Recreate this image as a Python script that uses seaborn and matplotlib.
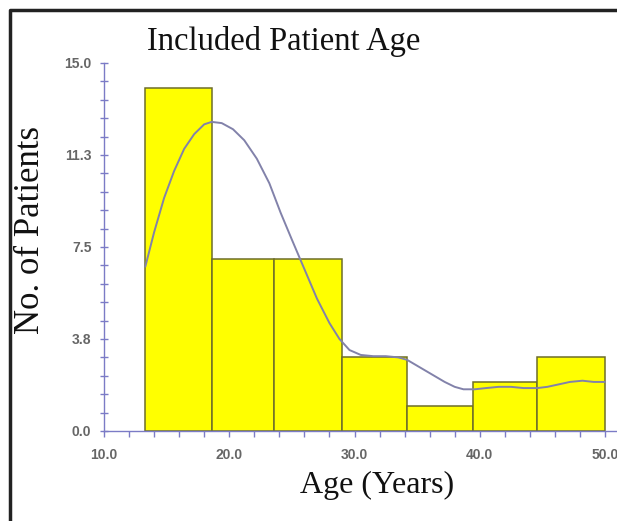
import matplotlib
matplotlib.use('Agg')
import matplotlib.pyplot as plt
from matplotlib.lines import Line2D
from matplotlib.ticker import MultipleLocator
import seaborn as sns

# histogram bins (years) and counts
bin_edges = [13.3, 18.6, 23.6, 29.0, 34.2, 39.5, 44.6, 50.0]
counts = [14, 7, 7, 3, 1, 2, 3]

# smoothed density curve, read point by point
curve_age = [13.3, 14.0, 14.8, 15.6, 16.4, 17.2, 18.0, 18.6, 19.4, 20.3, 21.2,
             22.2, 23.2, 24.1, 25.0, 26.0, 27.0, 28.0, 28.8, 29.6, 30.5, 31.5,
             32.5, 33.5, 34.2, 35.2, 36.2, 37.2, 38.0, 38.7, 39.6, 40.5, 41.5,
             42.5, 43.5, 44.6, 45.4, 46.3, 47.2, 48.2, 49.1, 50.0]
curve_val = [6.7, 8.1, 9.5, 10.6, 11.5, 12.1, 12.5, 12.6, 12.55, 12.3, 11.85,
             11.1, 10.1, 8.9, 7.8, 6.6, 5.4, 4.4, 3.75, 3.3, 3.1, 3.05,
             3.05, 3.0, 2.9, 2.6, 2.3, 2.0, 1.8, 1.7, 1.7, 1.75, 1.8,
             1.8, 1.75, 1.75, 1.8, 1.9, 2.0, 2.05, 2.0, 2.0]

x_ticks = [10, 20, 30, 40, 50]
x_labels = ['10.0', '20.0', '30.0', '40.0', '50.0']
y_ticks = [0, 3.75, 7.5, 11.25, 15]
y_labels = ['0.0', '3.8', '7.5', '11.3', '15.0']

sns.set_style('white')
plt.rcParams['font.family'] = ['Liberation Sans', 'DejaVu Sans']

W, H = 617, 521
fig = plt.figure(figsize=(W / 100, H / 100), dpi=100)
ax = fig.add_axes([104 / W, 90 / H, 513 / W, 368 / H])

mids = [(a + b) / 2 for a, b in zip(bin_edges[:-1], bin_edges[1:])]
sns.histplot(x=mids, weights=counts, bins=bin_edges, ax=ax,
             color='#ffff00', alpha=1, edgecolor='#6e6e2a', linewidth=1.1)
sns.lineplot(x=curve_age, y=curve_val, ax=ax, color='#8282aa', lw=1.4)

axis_col = '#7b7bc6'
ax.set_xlim(10, 10 + 513 / 12.525)
ax.set_ylim(0, 15)
for s in ['top', 'right']:
    ax.spines[s].set_visible(False)
for s in ['left', 'bottom']:
    ax.spines[s].set_color(axis_col)
    ax.spines[s].set_linewidth(1.0)

ax.set_xticks(x_ticks)
ax.set_xticklabels(x_labels)
ax.set_yticks(y_ticks)
ax.set_yticklabels(y_labels)
ax.xaxis.set_minor_locator(MultipleLocator(2))
ax.yaxis.set_minor_locator(MultipleLocator(0.75))
ax.tick_params(axis='y', which='both', direction='inout', length=6, width=1,
               color=axis_col, left=True)
ax.tick_params(axis='x', which='both', direction='out', length=4, width=1,
               color=axis_col, bottom=True)
ax.tick_params(axis='both', which='major', labelsize=10, labelcolor='#666666')
ax.tick_params(axis='y', which='major', pad=6)
ax.tick_params(axis='x', which='major', pad=8)
for lbl in ax.get_xticklabels() + ax.get_yticklabels():
    lbl.set_fontweight('bold')

ax.set_xlabel('')
ax.set_ylabel('')

serif = ['Liberation Serif', 'DejaVu Serif']
fig.text(284 / W, 1 - 50 / H, 'Included Patient Age', family=serif, fontsize=23.5,
         ha='center', va='baseline', color='#111111')
fig.text(377 / W, 1 - 493 / H, 'Age (Years)', family=serif, fontsize=23,
         ha='center', va='baseline', color='#111111')
fig.text(31 / W, 1 - 230 / H, 'No. of Patients', family=serif, fontsize=25,
         ha='center', va='center', rotation=90, color='#111111')

# outer frame (only top and left edges are visible in the crop)
fig.add_artist(Line2D([10 / W, 10 / W, 1], [0, 1 - 10 / H, 1 - 10 / H],
                      transform=fig.transFigure, color='#222222', lw=2.5))

fig.savefig('out.png', dpi=100)
